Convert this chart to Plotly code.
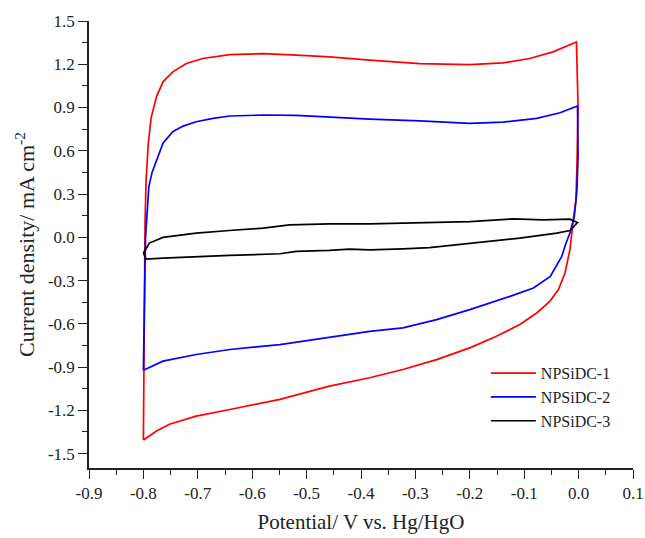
import numpy as np
import plotly.graph_objects as go

# ---------------- data ----------------
series_names = ["NPSiDC-1", "NPSiDC-2", "NPSiDC-3"]
series_colors = ["#FF0000", "#0000FF", "#000000"]

# NPSiDC-1 (red): anodic sweep then cathodic sweep
red_x = [-0.800, -0.799, -0.798, -0.797, -0.795, -0.791, -0.786, -0.776, -0.764, -0.746,
         -0.721, -0.691, -0.641, -0.580, -0.519, -0.458, -0.384, -0.292, -0.200, -0.139,
         -0.090, -0.047, -0.004,
         -0.001, -0.003, -0.005, -0.009, -0.016, -0.025, -0.037, -0.053, -0.077, -0.108,
         -0.151, -0.200, -0.261, -0.323, -0.384, -0.458, -0.549, -0.641, -0.703, -0.752,
         -0.776, -0.800]
red_y = [-1.406, -0.800, -0.300, 0.100, 0.400, 0.650, 0.825, 0.974, 1.078, 1.147,
         1.205, 1.240, 1.267, 1.274, 1.263, 1.251, 1.228, 1.205, 1.198, 1.209,
         1.240, 1.286, 1.355,
         0.905, 0.500, 0.250, 0.144, -0.087, -0.248, -0.363, -0.444, -0.525, -0.605,
         -0.686, -0.767, -0.848, -0.917, -0.974, -1.032, -1.124, -1.194, -1.240, -1.297,
         -1.344, -1.406]

# NPSiDC-2 (blue)
blue_x = [-0.800, -0.799, -0.797, -0.796, -0.793, -0.790, -0.784, -0.776, -0.764, -0.746,
          -0.727, -0.703, -0.672, -0.641, -0.580, -0.519, -0.458, -0.384, -0.292, -0.200,
          -0.139, -0.077, -0.034, -0.002,
          -0.001, -0.003, -0.008, -0.016, -0.024, -0.031, -0.052, -0.083, -0.126, -0.200,
          -0.261, -0.323, -0.384, -0.458, -0.549, -0.641, -0.703, -0.764, -0.800]
blue_y = [-0.922, -0.571, -0.200, 0.005, 0.200, 0.351, 0.450, 0.536, 0.652, 0.732,
          0.771, 0.801, 0.825, 0.841, 0.848, 0.845, 0.832, 0.820, 0.808, 0.790,
          0.799, 0.825, 0.864, 0.910,
          0.564, 0.329, 0.144, 0.029, -0.050, -0.133, -0.271, -0.352, -0.410, -0.502,
          -0.571, -0.628, -0.652, -0.691, -0.744, -0.778, -0.813, -0.859, -0.922]

# NPSiDC-3 (black)
black_x = [-0.800, -0.789, -0.764, -0.703, -0.642, -0.580, -0.531, -0.458, -0.384, -0.292,
           -0.200, -0.120, -0.065, -0.016, -0.002,
           -0.016, -0.040, -0.108, -0.169, -0.231, -0.274, -0.323, -0.384, -0.421, -0.458,
           -0.519, -0.549, -0.642, -0.703, -0.764, -0.795, -0.800]
black_y = [-0.109, -0.040, -0.001, 0.029, 0.047, 0.063, 0.086, 0.093, 0.093, 0.102,
           0.109, 0.128, 0.121, 0.126, 0.102,
           0.047, 0.029, -0.006, -0.029, -0.052, -0.071, -0.080, -0.087, -0.082, -0.091,
           -0.098, -0.114, -0.126, -0.133, -0.144, -0.151, -0.109]

x_tick_vals = [-0.9, -0.8, -0.7, -0.6, -0.5, -0.4, -0.3, -0.2, -0.1, 0.0, 0.1]
x_tick_text = ["-0.9", "-0.8", "-0.7", "-0.6", "-0.5", "-0.4", "-0.3", "-0.2", "-0.1", "0.0", "0.1"]
y_tick_vals = [-1.5, -1.2, -0.9, -0.6, -0.3, 0.0, 0.3, 0.6, 0.9, 1.2, 1.5]
y_tick_text = ["-1.5", "-1.2", "-0.9", "-0.6", "-0.3", "0.0", "0.3", "0.6", "0.9", "1.2", "1.5"]

x_title = "Potential/ V vs. Hg/HgO"
y_title = "Current density/ mA cm<sup>-2</sup>"

# ---------------- figure ----------------
FONT = "Liberation Serif"
TXT = "#222222"

fig = go.Figure()
for name, color, xs, ys in zip(series_names, series_colors,
                               [red_x, blue_x, black_x], [red_y, blue_y, black_y]):
    fig.add_trace(go.Scatter(x=xs, y=ys, mode="lines", name=name,
                             line=dict(color=color, width=1.7)))

x_minor = list(np.array(x_tick_vals[:-1]) + 0.05)
y_minor = list(np.array(y_tick_vals[:-1]) + 0.15)

axis_common = dict(showline=True, linecolor="#222222", linewidth=1.5, mirror=False,
                   showgrid=False, zeroline=False, ticks="outside", ticklen=9,
                   tickwidth=1.3, tickcolor="#222222", automargin=False,
                   tickfont=dict(family=FONT, size=17, color=TXT))

fig.update_xaxes(range=[-0.9, 0.1], tickmode="array", tickvals=x_tick_vals,
                 ticktext=x_tick_text,
                 minor=dict(tickmode="array", tickvals=x_minor, ticks="outside",
                            ticklen=5, tickwidth=1.3, tickcolor="#222222"),
                 title=dict(text=x_title, font=dict(family=FONT, size=21, color=TXT),
                            standoff=12),
                 **axis_common)
fig.update_yaxes(range=[-1.6, 1.5], tickmode="array", tickvals=y_tick_vals,
                 ticktext=y_tick_text,
                 minor=dict(tickmode="array", tickvals=y_minor, ticks="outside",
                            ticklen=5, tickwidth=1.3, tickcolor="#222222"),
                 title=dict(text=y_title, font=dict(family=FONT, size=22, color=TXT),
                            standoff=7),
                 **axis_common)

fig.update_layout(
    width=645, height=538, autosize=False,
    margin=dict(l=89, r=12, t=21, b=70),
    paper_bgcolor="white", plot_bgcolor="white",
    font=dict(family=FONT, color=TXT),
    legend=dict(x=0.7295, y=0.25, xanchor="left", yanchor="top",
                bgcolor="rgba(0,0,0,0)", font=dict(family=FONT, size=16, color=TXT),
                tracegroupgap=0, itemwidth=45),
    showlegend=True,
)

fig.write_html("out.html", config={"displayModeBar": False},
               post_script="document.body.style.margin='0';document.body.style.padding='0';")
